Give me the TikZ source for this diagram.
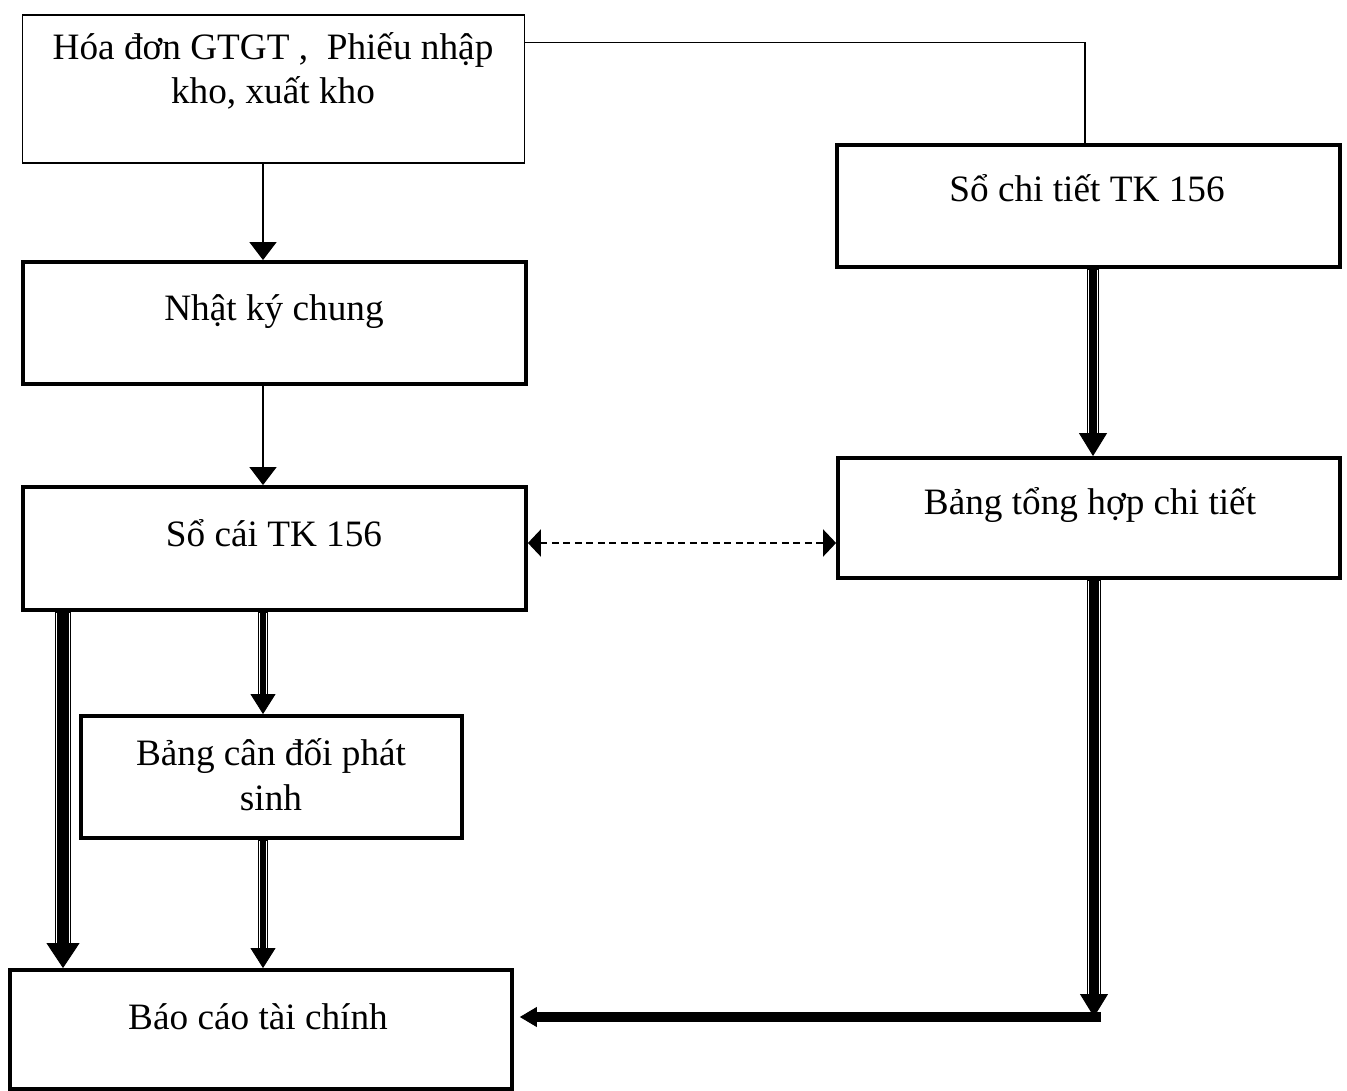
\documentclass[tikz,border=0pt]{standalone}
\usepackage{fontspec}
\setmainfont{Liberation Serif}
\usetikzlibrary{arrows.meta}

\begin{document}
\begin{tikzpicture}[x=0.02cm,y=-0.02cm,
		thinbox/.style={draw,line width=0.6pt,inner sep=0pt},
		box/.style={draw,line width=2.2pt,inner sep=0pt},
		lbl/.style={font=\fontsize{21.2pt}{25.5pt}\selectfont,align=center,anchor=base,inner sep=0pt},
		arr/.style={line width=0.8pt,-{Triangle[length=0.36cm,width=0.54cm]}},
		dasharr/.style={line width=1.1pt,dash pattern=on 0.14cm off 0.09cm,
			{Triangle[length=0.26cm,width=0.54cm]}-{Triangle[length=0.26cm,width=0.54cm]}},
		dbl/.style n args={4}{draw=black,line width=#1,-{Triangle[length=#3,width=#4,line width=0.5pt]},
			postaction={draw=white,-,line width=0.5pt,double=black,double distance=#2,shorten >=#3,shorten <=0.8pt}}]
			\useasboundingbox (0,0) rectangle (1347,1091);

			% boxes
			\node[thinbox,minimum width=10.06cm,minimum height=2.96cm] (hd) at (273.5,89) {};
			\node[box,minimum width=10.06cm,minimum height=2.44cm] (nkc) at (274.5,323) {};
			\node[box,minimum width=10.06cm,minimum height=2.46cm] (sc) at (274.5,548.5) {};
			\node[box,minimum width=7.62cm,minimum height=2.44cm] (bcd) at (271.5,777) {};
			\node[box,minimum width=10.04cm,minimum height=2.38cm] (bctc) at (261,1029.5) {};
			\node[box,minimum width=10.06cm,minimum height=2.44cm] (sct) at (1088.5,206) {};
			\node[box,minimum width=10.04cm,minimum height=2.4cm] (bth) at (1089,518) {};

			% texts (base = last line)
			\node[lbl] (hd-t) at (273,104) {Hóa đơn GTGT ,~ Phiếu nhập\\kho, xuất kho};
			\node[lbl] (nkc-t) at (274,321) {Nhật ký chung};
			\node[lbl] (sc-t) at (274,546) {Sổ cái TK 156};
			\node[lbl] (bcd-t) at (271,810) {Bảng cân đối phát\\sinh};
			\node[lbl] (bctc-t) at (258,1029) {Báo cáo tài chính};
			\node[lbl] (sct-t) at (1087,202) {Sổ chi tiết TK 156};
			\node[lbl] (bth-t) at (1090,515) {Bảng tổng hợp chi tiết};

			\coordinate (ax1) at (263,0);
			\coordinate (ax2) at (63,0);
			\coordinate (ax3) at (1093,0);
			\coordinate (dl) at ([yshift=0.11cm]sc.east);
			\coordinate (turn) at (1094,1017);

			\draw[arr] (hd.south -| ax1) -- (nkc.north -| ax1);
			\draw[arr] (nkc.south -| ax1) -- (sc.north -| ax1);
			\draw[line width=0.8pt] ([yshift=-0.56cm]hd.north east) -| ([xshift=-0.07cm]sct.north);

			\draw[dbl={6.8pt}{4.4pt}{0.46cm}{0.56cm}] (sct.south -| ax3) -- (bth.north -| ax3);
			\draw[dasharr] (dl) -- (dl -| bth.west);

			\draw[dbl={9pt}{6.6pt}{0.5cm}{0.66cm}] (sc.south -| ax2) -- (bctc.north -| ax2);
			\draw[dbl={6.2pt}{3pt}{0.4cm}{0.5cm}] (sc.south -| ax1) -- (bcd.north -| ax1);
			\draw[dbl={6.2pt}{3pt}{0.4cm}{0.5cm}] (bcd.south -| ax1) -- (bctc.north -| ax1);

			\draw[dbl={7.8pt}{5.4pt}{0.46cm}{0.56cm}] (bth.south -| turn) -- (turn);
			\draw[dbl={6pt}{4pt}{0.34cm}{0.4cm},shorten >=0.12cm] ([xshift=0.14cm]turn) -- (bctc.east |- turn);
		\end{tikzpicture}
\end{document}
